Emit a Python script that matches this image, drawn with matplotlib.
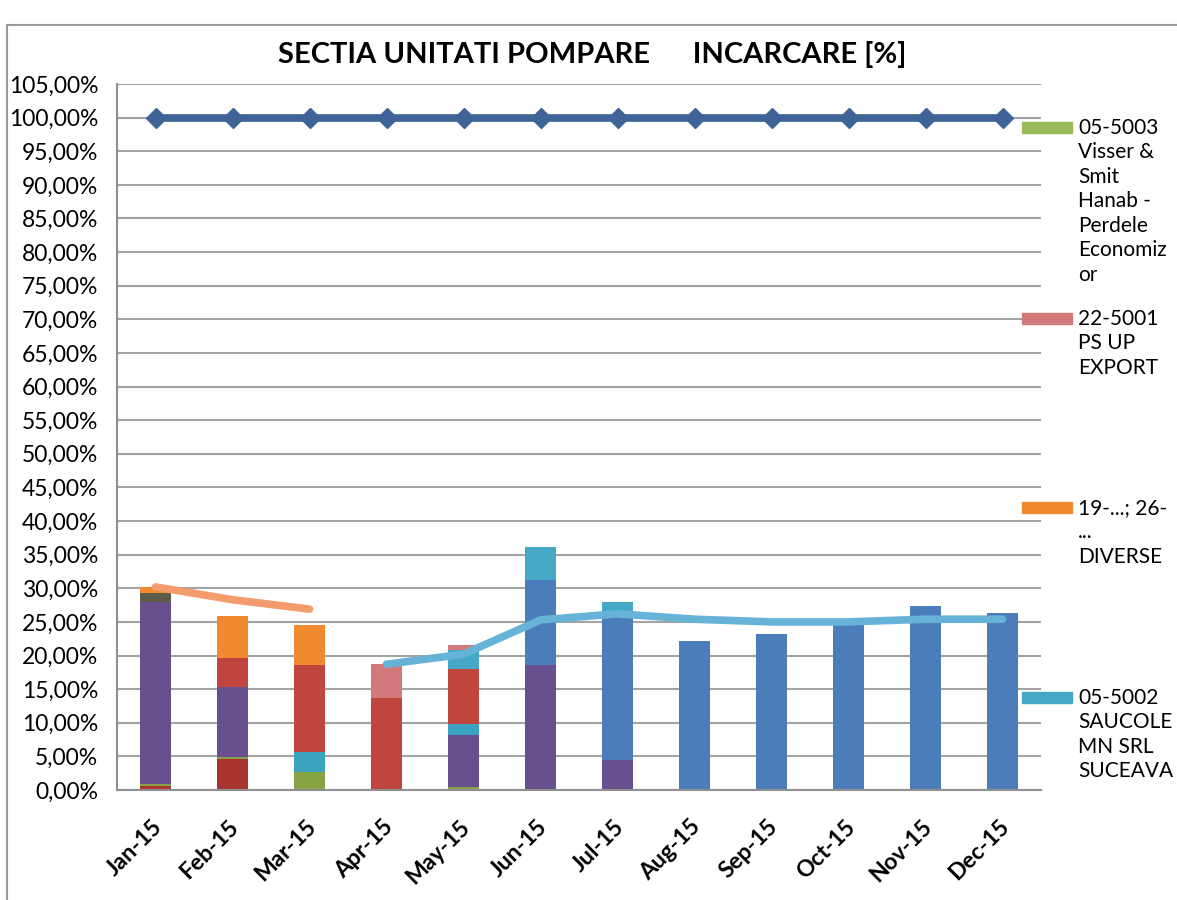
import numpy as np
import matplotlib
matplotlib.use("Agg")
import matplotlib.pyplot as plt
import matplotlib.transforms as mtransforms
from matplotlib.patches import Rectangle

plt.rcParams['font.family'] = ['Lato', 'DejaVu Sans']

months = ["Jan-15", "Feb-15", "Mar-15", "Apr-15", "May-15", "Jun-15",
          "Jul-15", "Aug-15", "Sep-15", "Oct-15", "Nov-15", "Dec-15"]

# stacked bar segments (bottom to top), values in %
s_darkred = [0.6, 4.6, 0, 0, 0, 0, 0, 0, 0, 0, 0, 0]
s_green   = [0.3, 0.3, 2.7, 0, 0.4, 0, 0, 0, 0, 0, 0, 0]
s_purple  = [27.1, 10.4, 0, 0, 7.8, 18.6, 4.5, 0, 0, 0, 0, 0]
s_teal    = [0, 0, 3.0, 0, 1.6, 0, 0, 0, 0, 0, 0, 0]
s_red     = [0, 4.3, 12.9, 13.7, 8.2, 0, 0, 0, 0, 0, 0, 0]
s_gray    = [1.3, 0, 0, 0, 0, 0, 0, 0, 0, 0, 0, 0]
s_orange  = [0.9, 6.3, 6.0, 0, 0, 0, 0, 0, 0, 0, 0, 0]
s_blue    = [0, 0, 0, 0, 0, 12.65, 22.0, 22.2, 23.2, 24.7, 27.4, 26.3]
s_teal2   = [0, 0, 0, 0, 2.8, 4.95, 1.5, 0, 0, 0, 0, 0]
s_pink    = [0, 0, 0, 5.05, 0.8, 0, 0, 0, 0, 0, 0, 0]

# lines
capacity = [100.0] * 12
orange_line = [30.2, 28.3, 26.9]
blue_line = [18.7, 20.2, 25.3, 26.2, 25.4, 25.0, 25.0, 25.4, 25.4]

legend_labels = ["05-5003\nVisser &\nSmit\nHanab -\nPerdele\nEconomiz\nor",
                 "22-5001\nPS UP\nEXPORT",
                 "19-...; 26-\n...\nDIVERSE",
                 "05-5002\nSAUCOLE\nMN SRL\nSUCEAVA"]

stack = [(s_darkred, '#A8332F'), (s_green, '#87A344'), (s_purple, '#684F8E'),
         (s_teal, '#3AA3BE'), (s_red, '#C0453F'), (s_gray, '#5C5A48'),
         (s_orange, '#F0892F'), (s_blue, '#4A7DBA'), (s_teal2, '#45A8C4'),
         (s_pink, '#D2797C')]

fig = plt.figure(figsize=(11.77, 9.0), dpi=100)
ax = fig.add_axes([117/1177, 110/900, 924/1177, 706/900])

x = np.arange(len(months))
bottom = np.zeros(len(months))
for vals, col in stack:
    v = np.array(vals, dtype=float)
    ax.bar(x, v, width=0.4, bottom=bottom, color=col, zorder=2)
    bottom += v

ax.plot(x, capacity, color='#3E6396', linewidth=5.5, marker='D', markersize=10,
        markerfacecolor='#3E6396', markeredgecolor='#3E6396', zorder=4)
ax.plot(x[:3], orange_line, color='#F59C6E', linewidth=5.5, solid_capstyle='round', zorder=3)
ax.plot(x[3:], blue_line, color='#67B3D8', linewidth=5.5, solid_capstyle='round', zorder=3)

ax.set_xlim(-0.5, 11.5)
ax.set_ylim(0, 105)
yt = np.arange(0, 106, 5)
ax.set_yticks(yt)
ax.set_yticklabels([("%.2f%%" % v).replace('.', ',') for v in yt], fontsize=16.5)
ax.yaxis.grid(True, color='#A3A3A3', linewidth=1.5, zorder=0)
ax.set_axisbelow(True)
ax.tick_params(axis='y', length=0, pad=13.5)
ax.tick_params(axis='x', length=0, pad=4)
ax.set_xticks(x)
ax.set_xticklabels(months, fontsize=16.5, fontweight='bold', rotation=45,
                   ha='right', va='center', rotation_mode='anchor')
offset = mtransforms.ScaledTranslation(3/100, -28/100, fig.dpi_scale_trans)
for lbl in ax.get_xticklabels():
    lbl.set_transform(lbl.get_transform() + offset)
for s in ['top', 'right']:
    ax.spines[s].set_visible(False)
for s in ['left', 'bottom']:
    ax.spines[s].set_color('#909090')
    ax.spines[s].set_linewidth(1.5)

fig.text(592/1177, 1 - 55/900, "SECTIA UNITATI POMPARE      INCARCARE [%]",
         fontsize=21, fontweight='bold', ha='center', va='center')

# legend (manual, as in the truncated Excel legend)
leg_cols = ['#9BBB59', '#D2797C', '#F0892F', '#45A8C4']
leg_y = [122, 313, 502, 692]
for lab, col, yy in zip(legend_labels, leg_cols, leg_y):
    fig.patches.append(Rectangle((1022/1177, 1 - (yy + 11)/900), 50/1177, 11/900,
                                 transform=fig.transFigure, color=col))
    fig.text(1078/1177, 1 - (yy - 4)/900, lab, fontsize=15, ha='left', va='top',
             linespacing=1.28)

# chart frame
fig.patches.append(Rectangle((7/1177, -0.1), 1.2, 1 - 25/900 + 0.1,
                             transform=fig.transFigure, fill=False,
                             edgecolor='#9A9A9A', linewidth=1.5))

fig.savefig("out.png", dpi=100)
